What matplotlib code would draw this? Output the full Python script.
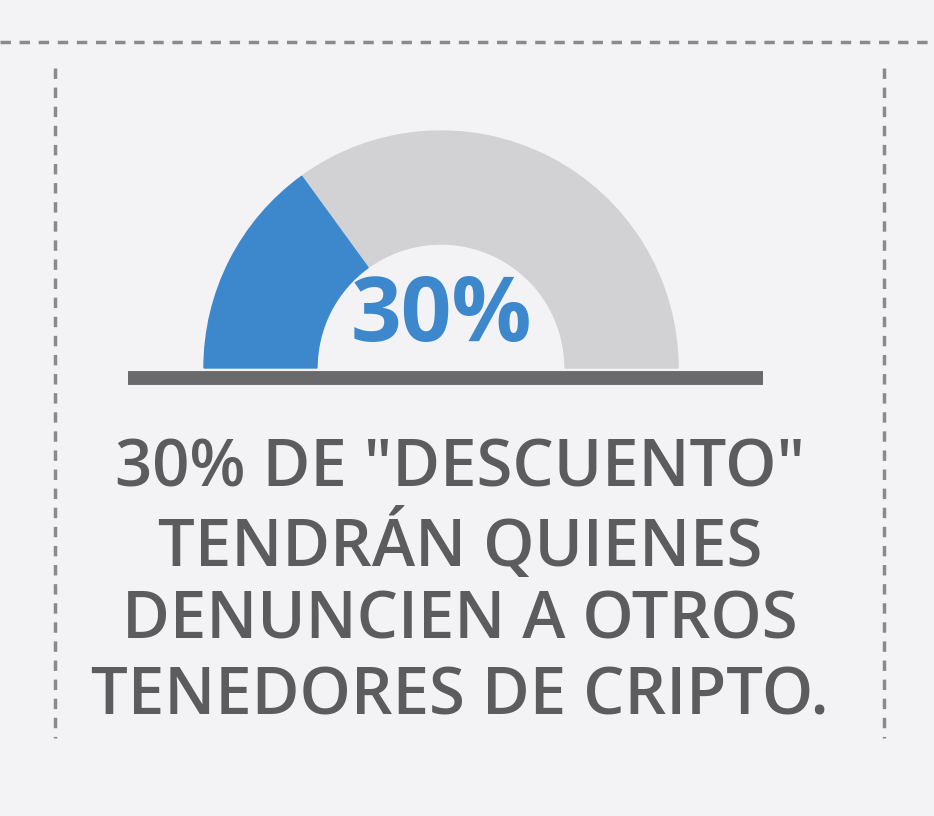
import matplotlib
matplotlib.use("Agg")
import matplotlib.pyplot as plt
from matplotlib.patches import Wedge

share = 30  # percent
label = "30%"
lines = ['30% DE "DESCUENTO"', 'TENDRÁN QUIENES', 'DENUNCIEN A OTROS', 'TENEDORES DE CRIPTO.']

W, H = 934, 816
fig = plt.figure(figsize=(W/100, H/100), dpi=100, facecolor="#f3f3f5")
ax = fig.add_axes([0, 0, 1, 1])
ax.set_xlim(0, W); ax.set_ylim(H, 0); ax.axis("off")

# dashed frame
ax.plot([0, W], [42, 42], ls=(0, (3, 2.5)), color="#8a8a8a", lw=2.5)
for x in (55, 884):
    ax.plot([x, x], [68, 738], ls=(0, (3, 2.5)), color="#8a8a8a", lw=2.5)

cx, cy, ro, ri = 441, 368, 237, 124
split = 180 - share / 100 * 180
# y axis inverted: visual angle t corresponds to -t
ax.add_patch(Wedge((cx, cy), ro, -split, 0, width=ro - ri, color="#d2d2d4"))
ax.add_patch(Wedge((cx, cy), ro, -180, -split, width=ro - ri, color="#3d88cc"))

ax.plot([128, 763], [378, 378], color="#6a6a6c", lw=10, solid_capstyle="butt")

ax.text(cx, 318, label, ha="center", va="center", fontsize=64, fontweight="bold",
        family="Open Sans", color="#3d88cc")

for i, t in enumerate(lines):
    ax.text(460, 470 + i * 76, t, ha="center", va="center", fontsize=47,
            fontweight="semibold", family="Open Sans", color="#5c5c5e")

fig.savefig("out.png", dpi=100, facecolor=fig.get_facecolor())
